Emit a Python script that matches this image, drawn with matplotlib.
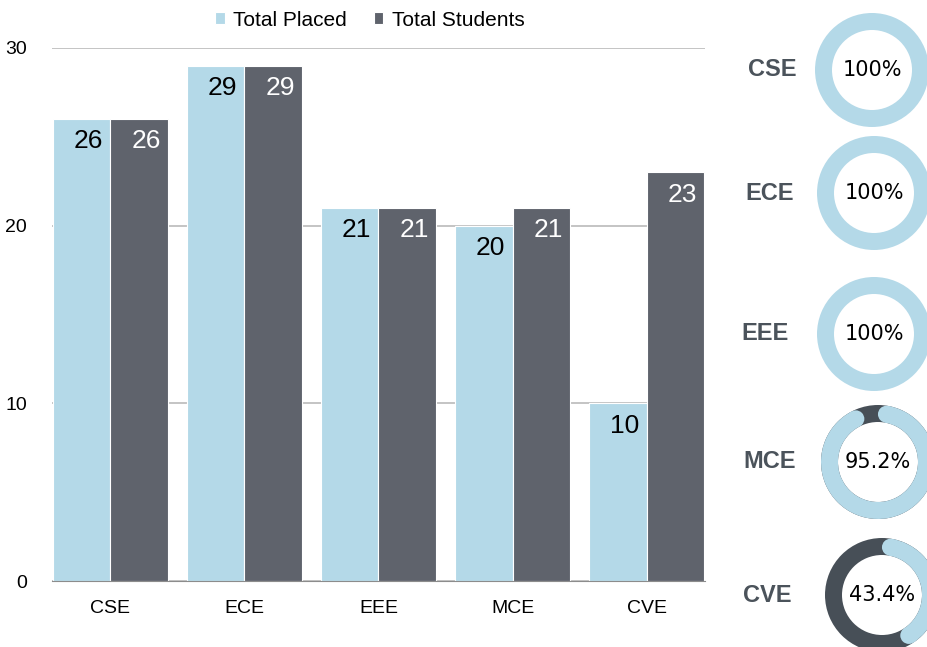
import math
import matplotlib
matplotlib.use("Agg")
import matplotlib.pyplot as plt
from matplotlib.patches import Wedge, Circle

# data
depts = ["CSE", "ECE", "EEE", "MCE", "CVE"]
placed = [26, 29, 21, 20, 10]
students = [26, 29, 21, 21, 23]

light = "#b4d9e8"
dark = "#5f636c"
ring_dark = "#474f57"
label_col = "#4b535b"

plt.rcParams["font.family"] = ["Liberation Sans", "DejaVu Sans"]

fig = plt.figure(figsize=(9.28, 6.47), dpi=100)
ax = fig.add_axes([52 / 928, 66 / 647, 653 / 928, 533 / 647])

x = list(range(len(depts)))
w = 0.43
b1 = ax.bar([i - w / 2 for i in x], placed, width=w, color=light, label="Total Placed",
            edgecolor="white", linewidth=0.8)
b2 = ax.bar([i + w / 2 for i in x], students, width=w, color=dark, label="Total Students",
            edgecolor="white", linewidth=0.8)

for bars, vals, col in [(b1, placed, "black"), (b2, students, "white")]:
    for r, v in zip(bars, vals):
        ax.annotate(str(v), xy=(r.get_x() + r.get_width() / 2, v), xytext=(5, -16),
                    textcoords="offset points", ha="center", va="center",
                    fontsize=19, color=col)

ax.set_xlim(-0.435, 4.435)
ax.set_ylim(0, 30)
ax.set_yticks([0, 10, 20, 30])
ax.set_xticks(x)
ax.set_xticklabels(depts)
ax.tick_params(length=0, labelsize=14)
ax.tick_params(axis="y", pad=18)
ax.tick_params(axis="x", pad=14)
ax.yaxis.grid(True, color="#bfbfbf", linewidth=1.3)
ax.set_axisbelow(True)
for s in ["top", "right", "left"]:
    ax.spines[s].set_visible(False)
ax.spines["bottom"].set_color("#8c8c8c")

fig.legend(handles=[b1, b2], loc="center", bbox_to_anchor=(370 / 928, 1 - 20 / 647),
           ncol=2, frameon=False, fontsize=15, handlelength=0.45, handleheight=0.45,
           handletextpad=0.4, columnspacing=1.3)

# donuts on the right, drawn in pixel coords
ov = fig.add_axes([0, 0, 1, 1])
ov.set_xlim(0, 928)
ov.set_ylim(0, 647)
ov.axis("off")

centers = [(872, 70), (874, 193), (874, 334), (878, 462), (882, 595)]
label_x = [772, 770, 765, 770, 767]
R = 57
W = 17
for d, p, s, (cx, cy), lx in zip(depts, placed, students, centers, label_x):
    cy = 647 - cy
    frac = p / s
    pct = math.floor(frac * 1000) / 10
    txt = "100%" if frac >= 1 else f"{pct:.1f}%"
    if frac >= 1:
        ov.add_patch(Wedge((cx, cy), R, 0, 360, width=W, color=light, lw=0))
    else:
        ov.add_patch(Wedge((cx, cy), R, 0, 360, width=W, color=ring_dark, lw=0))
        rm = R - W / 2
        cap = math.degrees((W / 2) / rm)
        t2 = 90 - cap
        t1 = 90 - 360 * frac + cap
        ov.add_patch(Wedge((cx, cy), R, t1, t2, width=W, color=light, lw=0))
        for t in (t1, t2):
            ov.add_patch(Circle((cx + rm * math.cos(math.radians(t)),
                                 cy + rm * math.sin(math.radians(t))), W / 2,
                                color=light, lw=0))
    ov.text(cx, cy, txt, ha="center", va="center", fontsize=15,
            family="DejaVu Sans", color="black")
    ov.text(lx, cy, d, ha="center", va="center", fontsize=17, fontweight="bold",
            color=label_col)

fig.savefig("out.png", dpi=100)
